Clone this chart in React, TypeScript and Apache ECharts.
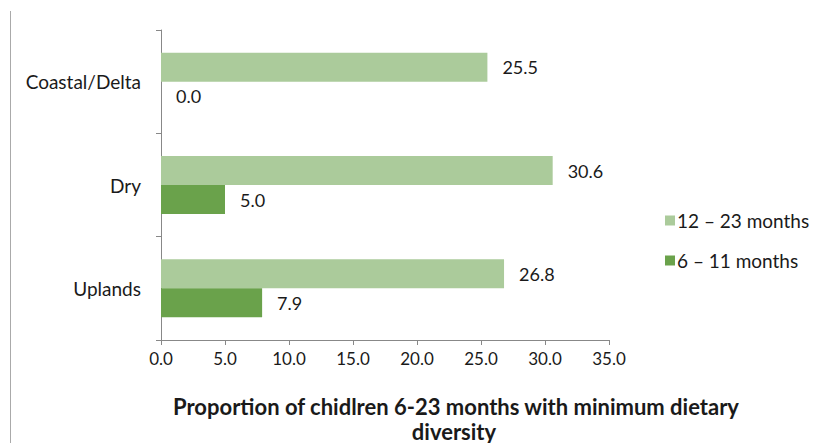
import React, { useEffect, useRef } from "react";
import * as echarts from "echarts";

const categories = ["Uplands", "Dry", "Coastal/Delta"];
const older = [26.8, 30.6, 25.5]; // 12 – 23 months
const younger = [7.9, 5.0, 0.0]; // 6 – 11 months
const seriesNames = ["12 – 23 months", "6 – 11 months"];
const xTicks = { min: 0, max: 35, interval: 5 };
const axisTitle = ["Proportion of chidlren 6-23 months with minimum dietary", "diversity"];

const FONT = "Lato, 'Open Sans', sans-serif";

export default function App() {
  const ref = useRef<HTMLDivElement>(null);
  useEffect(() => {
    if (!ref.current) return;
    const chart = echarts.init(ref.current, undefined, { renderer: "svg" });
    const label = {
      show: true,
      position: "right",
      distance: 15,
      color: "#1a1a1a",
      fontSize: 18,
      fontFamily: FONT,
      formatter: (p: any) => Number(p.value).toFixed(1),
    };
    chart.setOption({
      animation: false,
      backgroundColor: "#fff",
      textStyle: { fontFamily: FONT },
      grid: { left: 161, right: 209, top: 30, bottom: 103, containLabel: false },
      legend: {
        orient: "vertical",
        left: 660,
        top: 206,
        itemWidth: 10,
        itemHeight: 10,
        itemGap: 21,
        icon: "rect",
        data: seriesNames,
        textStyle: { fontSize: 19, color: "#1a1a1a", fontFamily: FONT, padding: [0, 0, 0, -3] },
      },
      xAxis: {
        type: "value",
        min: xTicks.min,
        max: xTicks.max,
        interval: xTicks.interval,
        axisLine: { show: true, lineStyle: { color: "#888", width: 1 } },
        axisTick: { show: true, length: 5, lineStyle: { color: "#888" } },
        splitLine: { show: false },
        axisLabel: {
          fontSize: 17,
          color: "#1a1a1a",
          fontFamily: FONT,
          margin: 10,
          formatter: (v: number) => v.toFixed(1),
        },
      },
      yAxis: {
        type: "category",
        data: categories,
        axisLine: { show: true, lineStyle: { color: "#888", width: 1 } },
        axisTick: { show: true, length: 5, lineStyle: { color: "#888" } },
        axisLabel: { fontSize: 19, color: "#1a1a1a", fontFamily: FONT, margin: 20 },
      },
      series: [
        {
          name: seriesNames[0],
          type: "bar",
          data: older,
          barWidth: 29,
          barGap: "0%",
          itemStyle: { color: "#abcb9b" },
          label,
        },
        {
          name: seriesNames[1],
          type: "bar",
          data: younger,
          barWidth: 29,
          barGap: "0%",
          itemStyle: { color: "#6aa24b" },
          label,
        },
      ],
      graphic: [
        {
          type: "line",
          shape: { x1: 10.5, y1: 11, x2: 10.5, y2: 443 },
          style: { stroke: "#aaa", lineWidth: 1 },
        },
        {
          type: "text",
          x: 456,
          y: 406,
          style: {
            text: axisTitle[0],
            fontSize: 22,
            fontWeight: "bold",
            fontFamily: FONT,
            fill: "#1a1a1a",
            textAlign: "center",
            textVerticalAlign: "middle",
          },
        },
        {
          type: "text",
          x: 454,
          y: 431,
          style: {
            text: axisTitle[1],
            fontSize: 22,
            fontWeight: "bold",
            fontFamily: FONT,
            fill: "#1a1a1a",
            textAlign: "center",
            textVerticalAlign: "middle",
          },
        },
      ],
    });
    return () => chart.dispose();
  }, []);
  return <div ref={ref} style={{ width: 818, height: 443, position: "absolute", left: 0, top: 0 }} />;
}
